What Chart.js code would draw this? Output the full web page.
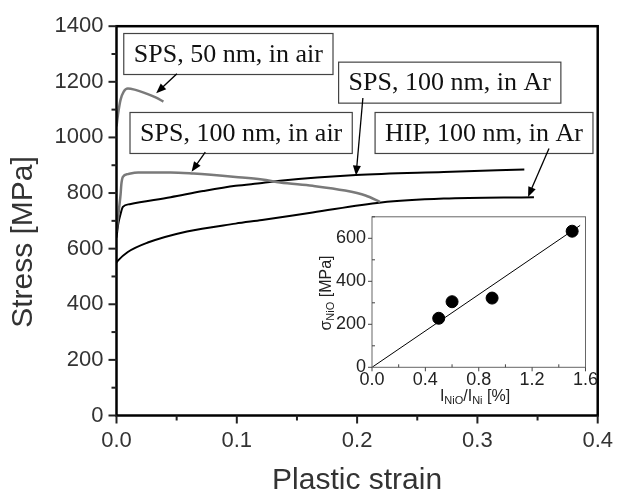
<!DOCTYPE html>
<html>
<head>
<meta charset="utf-8">
<script src="https://cdn.jsdelivr.net/npm/chart.js@4.4.1/dist/chart.umd.min.js"></script>
<style>
  body { margin: 0; background: #fff; }
  #wrap { position: relative; width: 625px; height: 498px; }
  #chart { position: absolute; left: 0; top: 0; }
  #inset { position: absolute; left: 300px; top: 200px; }
</style>
</head>
<body>
<div id="wrap">
  <canvas id="chart" width="625" height="498"></canvas>
  <canvas id="inset" width="300" height="210"></canvas>
</div>
<script>
// main plot: stress-strain curves
var sps50Strain = [0, 0.0015, 0.0034, 0.006, 0.0094, 0.015, 0.026, 0.033, 0.039];
var sps50Stress = [1040, 1090, 1136, 1165, 1176, 1172, 1156, 1143, 1129];

var sps100AirStrain = [0, 0.002, 0.0034, 0.004, 0.0053, 0.0094, 0.018, 0.045, 0.064, 0.099, 0.121, 0.136, 0.163, 0.19, 0.207, 0.219];
var sps100AirStress = [660, 740, 795, 830, 858, 868, 874, 874, 870, 858, 849, 838, 826, 809, 791, 768];

var sps100ArStrain = [0, 0.0015, 0.0034, 0.0053, 0.011, 0.045, 0.072, 0.099, 0.121, 0.136, 0.199, 0.272, 0.339];
var sps100ArStress = [640, 690, 725, 750, 760, 785, 807, 826, 836, 844, 865, 876, 885];

var hipStrain = [0, 0.001, 0.0094, 0.026, 0.0586, 0.099, 0.121, 0.163, 0.22, 0.272, 0.347];
var hipStress = [550, 556, 588, 622, 662, 690, 703, 730, 766, 780, 785];

var xTickValues = [0, 0.1, 0.2, 0.3, 0.4];
var yTickValues = [0, 200, 400, 600, 800, 1000, 1200, 1400];

// inset: sigma_NiO vs I_NiO/I_Ni
var insetRatio = [0.5, 0.6, 0.9, 1.5];
var insetSigma = [228, 305, 322, 633];
var fitRatio = [0, 1.56];
var fitSigma = [0, 660];
var insetXTicks = [0, 0.4, 0.8, 1.2, 1.6];
var insetYTicks = [0, 200, 400, 600];

function pts(xs, ys) {
  return xs.map(function(x, i) { return { x: x, y: ys[i] }; });
}

var labels = [
  { text: "SPS, 50 nm, in air", x: 0.093, y: 1300, from: [0.0502, 1229], to: [0.033, 1159] },
  { text: "SPS, 100 nm, in air", x: 0.1036, y: 1016, from: [0.0738, 947], to: [0.0624, 877] },
  { text: "SPS, 100 nm, in Ar", x: 0.277, y: 1197, from: [0.2048, 1142], to: [0.1991, 863] },
  { text: "HIP, 100 nm, in Ar", x: 0.3055, y: 1016, from: [0.3595, 960], to: [0.3421, 786] }
];

function arrow(ctx, x1, y1, x2, y2) {
  var a = Math.atan2(y2 - y1, x2 - x1);
  var len = 10, wid = 4;
  ctx.beginPath();
  ctx.moveTo(x1, y1);
  ctx.lineTo(x2 - Math.cos(a) * len * 0.8, y2 - Math.sin(a) * len * 0.8);
  ctx.stroke();
  ctx.beginPath();
  ctx.moveTo(x2, y2);
  ctx.lineTo(x2 - Math.cos(a) * len - Math.sin(a) * wid, y2 - Math.sin(a) * len + Math.cos(a) * wid);
  ctx.lineTo(x2 - Math.cos(a) * len + Math.sin(a) * wid, y2 - Math.sin(a) * len - Math.cos(a) * wid);
  ctx.closePath();
  ctx.fill();
}

var mainDecor = {
  id: "mainDecor",
  afterDatasetsDraw: function(chart) {
    var ctx = chart.ctx, a = chart.chartArea;
    var xs = chart.scales.x, ys = chart.scales.y;
    ctx.save();
    ctx.strokeStyle = "#000";
    ctx.lineWidth = 2.5;
    ctx.strokeRect(a.left, a.top, a.right - a.left, a.bottom - a.top);

    // ticks, minor ones halfway
    ctx.lineWidth = 2;
    ctx.strokeStyle = "#222";
    yTickValues.forEach(function(v, i) {
      var p = ys.getPixelForValue(v);
      ctx.beginPath(); ctx.moveTo(a.left, p); ctx.lineTo(a.left - 8, p); ctx.stroke();
      if (i < yTickValues.length - 1) {
        var m = ys.getPixelForValue((v + yTickValues[i + 1]) / 2);
        ctx.beginPath(); ctx.moveTo(a.left, m); ctx.lineTo(a.left - 5, m); ctx.stroke();
      }
    });
    xTickValues.forEach(function(v, i) {
      var p = xs.getPixelForValue(v);
      ctx.beginPath(); ctx.moveTo(p, a.bottom); ctx.lineTo(p, a.bottom + 8); ctx.stroke();
      if (i < xTickValues.length - 1) {
        var m = xs.getPixelForValue((v + xTickValues[i + 1]) / 2);
        ctx.beginPath(); ctx.moveTo(m, a.bottom); ctx.lineTo(m, a.bottom + 5); ctx.stroke();
      }
    });

    // axis titles
    ctx.fillStyle = "#333";
    ctx.font = "30px 'Liberation Sans'";
    ctx.textAlign = "center";
    ctx.textBaseline = "middle";
    ctx.fillText("Plastic strain", (a.left + a.right) / 2, 481);
    ctx.save();
    ctx.translate(24, 242);
    ctx.rotate(-Math.PI / 2);
    ctx.fillText("Stress [MPa]", 0, 0);
    ctx.restore();

    // labelled boxes with arrows
    ctx.font = "26px 'Liberation Serif'";
    labels.forEach(function(l) {
      var cx = xs.getPixelForValue(l.x), cy = ys.getPixelForValue(l.y);
      var w = ctx.measureText(l.text).width + 20, h = 41;
      ctx.fillStyle = "#fff";
      ctx.fillRect(cx - w / 2, cy - h / 2, w, h);
      ctx.strokeStyle = "#444";
      ctx.lineWidth = 1.2;
      ctx.strokeRect(cx - w / 2, cy - h / 2, w, h);
      ctx.fillStyle = "#111";
      ctx.fillText(l.text, cx, cy + 1);
      ctx.strokeStyle = "#000";
      ctx.fillStyle = "#000";
      ctx.lineWidth = 1.3;
      arrow(ctx, xs.getPixelForValue(l.from[0]), ys.getPixelForValue(l.from[1]),
            xs.getPixelForValue(l.to[0]), ys.getPixelForValue(l.to[1]));
    });
    ctx.restore();
  }
};

var tickFont = { family: "'Liberation Sans'", size: 22 };

new Chart(document.getElementById("chart").getContext("2d"), {
  type: "line",
  data: {
    datasets: [
      { label: "SPS, 50 nm, in air", data: pts(sps50Strain, sps50Stress), borderColor: "#7a7a7a", borderWidth: 2.5 },
      { label: "SPS, 100 nm, in air", data: pts(sps100AirStrain, sps100AirStress), borderColor: "#7a7a7a", borderWidth: 2.5 },
      { label: "SPS, 100 nm, in Ar", data: pts(sps100ArStrain, sps100ArStress), borderColor: "#000", borderWidth: 2 },
      { label: "HIP, 100 nm, in Ar", data: pts(hipStrain, hipStress), borderColor: "#000", borderWidth: 2 }
    ]
  },
  options: {
    responsive: false,
    animation: false,
    events: [],
    layout: { padding: { top: 19, right: 18, left: 0, bottom: 0 } },
    elements: { point: { radius: 0 }, line: { cubicInterpolationMode: "monotone", fill: false } },
    plugins: { legend: { display: false }, tooltip: { enabled: false } },
    scales: {
      x: {
        type: "linear", min: 0, max: 0.4,
        grid: { display: false, drawTicks: false },
        border: { display: false },
        afterBuildTicks: function(s) { s.ticks = xTickValues.map(function(v) { return { value: v }; }); },
        afterFit: function(s) { s.height = 82.5; },
        ticks: { font: tickFont, color: "#333", padding: 12, maxRotation: 0,
                 callback: function(v) { return v.toFixed(1); } }
      },
      y: {
        min: 0, max: 1400,
        grid: { display: false, drawTicks: false },
        border: { display: false },
        afterBuildTicks: function(s) { s.ticks = yTickValues.map(function(v) { return { value: v }; }); },
        afterFit: function(s) { s.width = 116.5; },
        ticks: { font: tickFont, color: "#333", padding: 13,
                 callback: function(v) { return String(v); } }
      }
    }
  },
  plugins: [mainDecor]
});

function subText(ctx, parts, x, y) {
  // parts: [text, isSub]
  var big = "16px 'Liberation Sans'", small = "11px 'Liberation Sans'";
  var total = 0;
  parts.forEach(function(p) { ctx.font = p[1] ? small : big; total += ctx.measureText(p[0]).width; });
  var cx = x - total / 2;
  ctx.textAlign = "left";
  ctx.textBaseline = "alphabetic";
  parts.forEach(function(p) {
    ctx.font = p[1] ? small : big;
    ctx.fillText(p[0], cx, p[1] ? y + 3 : y);
    cx += ctx.measureText(p[0]).width;
  });
}

var insetDecor = {
  id: "insetDecor",
  afterDatasetsDraw: function(chart) {
    var ctx = chart.ctx, a = chart.chartArea;
    var xs = chart.scales.x, ys = chart.scales.y;
    ctx.save();
    ctx.strokeStyle = "#666";
    ctx.lineWidth = 1;
    ctx.strokeRect(a.left, a.top, a.right - a.left, a.bottom - a.top);
    ctx.strokeStyle = "#444";
    insetYTicks.forEach(function(v) {
      var p = ys.getPixelForValue(v);
      ctx.beginPath(); ctx.moveTo(a.left, p); ctx.lineTo(a.left - 4, p); ctx.stroke();
      var m = ys.getPixelForValue(v + 100);
      ctx.beginPath(); ctx.moveTo(a.left, m); ctx.lineTo(a.left + 3, m); ctx.stroke();
    });
    insetXTicks.forEach(function(v, i) {
      var p = xs.getPixelForValue(v);
      ctx.beginPath(); ctx.moveTo(p, a.bottom); ctx.lineTo(p, a.bottom + 4); ctx.stroke();
      if (i < insetXTicks.length - 1) {
        var m = xs.getPixelForValue((v + insetXTicks[i + 1]) / 2);
        ctx.beginPath(); ctx.moveTo(m, a.bottom); ctx.lineTo(m, a.bottom - 3); ctx.stroke();
      }
    });
    ctx.fillStyle = "#222";
    subText(ctx, [["I", false], ["NiO", true], ["/I", false], ["Ni", true], [" [%]", false]], 175, 201);
    ctx.save();
    ctx.translate(31, 93);
    ctx.rotate(-Math.PI / 2);
    subText(ctx, [["\u03c3", false], ["NiO", true], [" [MPa]", false]], 0, 0);
    ctx.restore();
    ctx.restore();
  }
};

var insetFont = { family: "'Liberation Sans'", size: 18 };

new Chart(document.getElementById("inset").getContext("2d"), {
  type: "scatter",
  data: {
    datasets: [
      { label: "fit", data: pts(fitRatio, fitSigma), showLine: true, borderColor: "#000", borderWidth: 1, pointRadius: 0 },
      { label: "sigma", data: pts(insetRatio, insetSigma), backgroundColor: "#000", borderColor: "#000", pointRadius: 6 }
    ]
  },
  options: {
    responsive: false,
    animation: false,
    events: [],
    layout: { padding: { top: 12, right: 14, left: 0, bottom: 0 } },
    plugins: { legend: { display: false }, tooltip: { enabled: false } },
    scales: {
      x: {
        type: "linear", min: 0, max: 1.6,
        grid: { display: false, drawTicks: false },
        border: { display: false },
        afterBuildTicks: function(s) { s.ticks = insetXTicks.map(function(v) { return { value: v }; }); },
        afterFit: function(s) { s.height = 42.7; },
        ticks: { font: insetFont, color: "#222", padding: 2, maxRotation: 0,
                 callback: function(v) { return v.toFixed(1); } }
      },
      y: {
        min: 0, max: 700,
        grid: { display: false, drawTicks: false },
        border: { display: false },
        afterBuildTicks: function(s) { s.ticks = insetYTicks.map(function(v) { return { value: v }; }); },
        afterFit: function(s) { s.width = 72; },
        ticks: { font: insetFont, color: "#222", padding: 6,
                 callback: function(v) { return String(v); } }
      }
    }
  },
  plugins: [insetDecor]
});
</script>
</body>
</html>
